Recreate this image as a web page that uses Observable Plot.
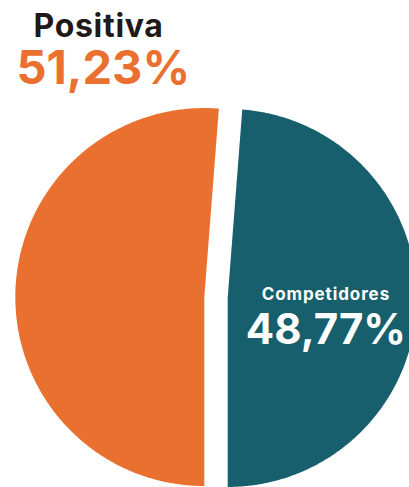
<!DOCTYPE html>
<html><head><meta charset="utf-8">
<script src="https://cdn.jsdelivr.net/npm/d3@7"></script>
<script src="https://cdn.jsdelivr.net/npm/@observablehq/plot@0.6"></script>
<style>
html,body{margin:0;padding:0;background:#fff;} #chart svg{display:block}
.title-name text{letter-spacing:0.7px}
.slice-name text{letter-spacing:0.9px}
</style>
</head><body><div id="chart"></div>
<script>
// Data
const names = ["Positiva", "Competidores"];
const values = [51.23, 48.77];
const colors = ["#E9702E", "#175F6D"];

// Layout (pixels)
const W = 409, H = 487, cx = 215.5, cy = 297, R = 189, explode = 11.7;
const font = "Inter, 'Open Sans', sans-serif";

const fmt = v => d3.format(".2f")(v).replace(".", ",") + "%";
const arcs = d3.pie().sort(null).startAngle(Math.PI).endAngle(3 * Math.PI)(values);

const slicePoints = [];
const labels = [];
arcs.forEach((a, i) => {
  const mid = (a.startAngle + a.endAngle) / 2;
  const ox = explode / R * Math.sin(mid), oy = explode / R * Math.cos(mid);
  slicePoints.push({name: names[i], x: ox, y: oy});
  const n = 360;
  for (let k = 0; k <= n; k++) {
    const t = a.startAngle + (a.endAngle - a.startAngle) * k / n;
    slicePoints.push({name: names[i], x: ox + Math.sin(t), y: oy + Math.cos(t)});
  }
  slicePoints.push({name: names[i], x: ox, y: oy});
  labels.push({name: names[i], value: fmt(values[i]), x: ox + 0.52 * Math.sin(mid), y: oy + 0.52 * Math.cos(mid)});
});

const plot = Plot.plot({
  width: W, height: H,
  margin: 0,
  style: {background: "#fff", fontFamily: font, overflow: "visible"},
  x: {domain: [(0 - cx) / R, (W - cx) / R], range: [0, W], axis: null},
  y: {domain: [(cy - H) / R, cy / R], range: [H, 0], axis: null},
  color: {domain: names, range: colors},
  marks: [
    Plot.line(slicePoints, {x: "x", y: "y", z: "name", fill: "name", stroke: null, curve: "linear"}),
    Plot.text([names[0]], {frameAnchor: "top-left", dx: 33, dy: 36, textAnchor: "start", lineAnchor: "bottom",
      fontSize: 32, fontWeight: 700, fill: "#1f1a17", fontFamily: font, className: "title-name"}),
    Plot.text([fmt(values[0])], {frameAnchor: "top-left", dx: 16, dy: 83, textAnchor: "start", lineAnchor: "bottom",
      fontSize: 47, fontWeight: 700, fill: colors[0], fontFamily: font}),
    Plot.text(labels.slice(1), {x: "x", y: "y", text: "name", dy: -2, lineAnchor: "bottom", textAnchor: "middle",
      fontSize: 17, fontWeight: 700, fill: "#fff", fontFamily: font, className: "slice-name"}),
    Plot.text(labels.slice(1), {x: "x", y: "y", text: "value", dy: 42, lineAnchor: "bottom", textAnchor: "middle",
      fontSize: 42, fontWeight: 700, fill: "#fff", fontFamily: font})
  ]
});
document.getElementById("chart").appendChild(plot);
</script>
</body></html>
